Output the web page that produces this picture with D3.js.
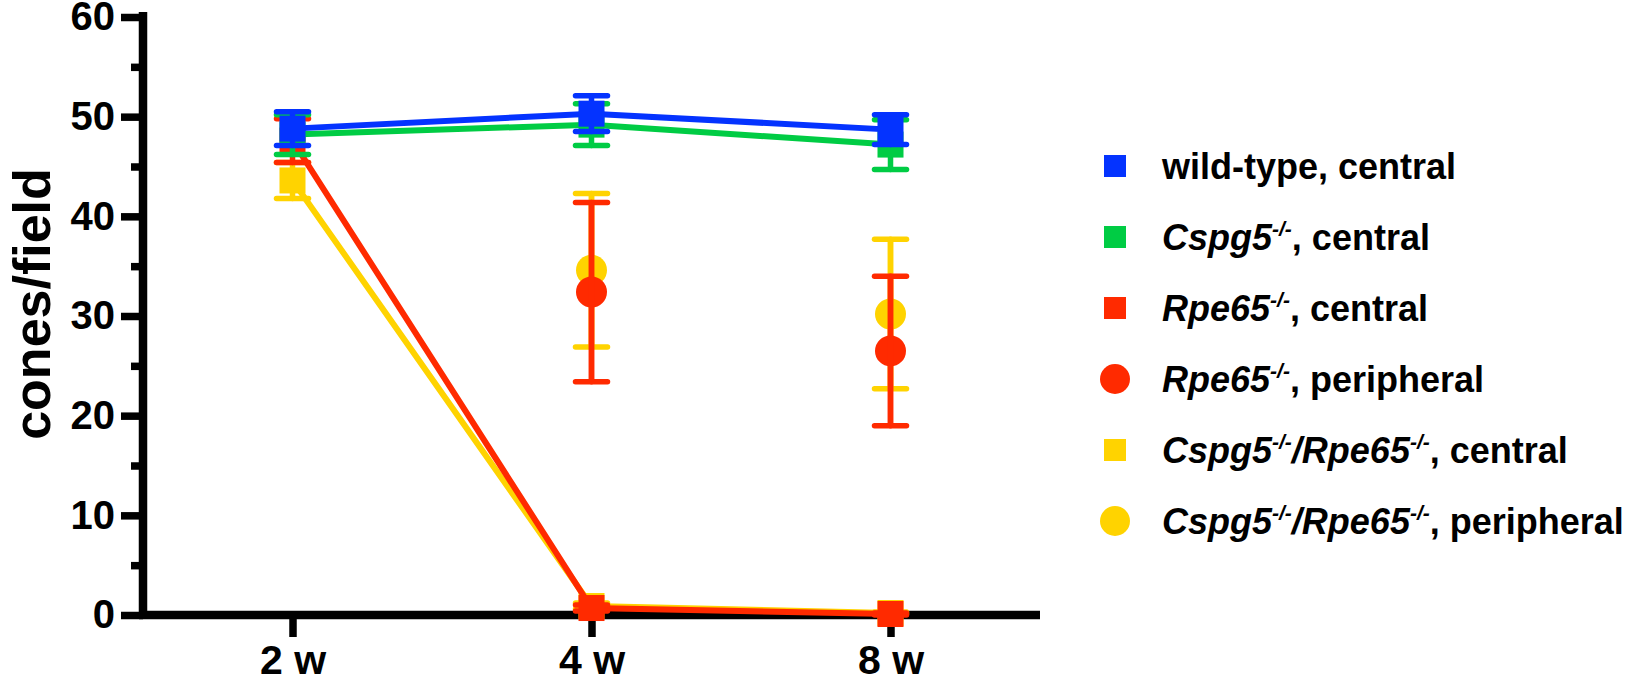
<!DOCTYPE html>
<html><head><meta charset="utf-8">
<script src="https://cdn.jsdelivr.net/npm/d3@7"></script>
<style>
body{margin:0;background:#fff}
svg{display:block}
text{font-family:"Liberation Sans",Arial,Helvetica,sans-serif;font-weight:bold;fill:#000}
</style>
</head><body>
<svg id="c" width="1646" height="681"></svg>
<script>
// ---- data ----
const categories = ["2 w", "4 w", "8 w"];
const yTicks = [0, 10, 20, 30, 40, 50, 60];
const yMinorTicks = [5, 15, 25, 35, 45, 55];

const wtCentralMean = [48.8, 50.3, 48.7];
const wtCentralErr = [1.7, 1.8, 1.5];
const cspgCentralMean = [48.2, 49.2, 47.2];
const cspgCentralErr = [2.0, 2.1, 2.5];
const rpeCentralMean = [47.6, 0.7, 0.1];
const rpeCentralErr = [2.2, 0.3, 0.1];
const rpePeripheralMean = [null, 32.4, 26.5];
const rpePeripheralErr = [null, 9.0, 7.5];
const dkoCentralMean = [43.6, 0.9, 0.2];
const dkoCentralErr = [1.8, 0.3, 0.1];
const dkoPeripheralMean = [null, 34.6, 30.2];
const dkoPeripheralErr = [null, 7.7, 7.5];

const seriesNames = ["wild-type, central", "Cspg5 central", "Rpe65 central", "Rpe65 peripheral", "Cspg5/Rpe65 central", "Cspg5/Rpe65 peripheral"];
const seriesColors = ["#0433ff", "#00cc44", "#ff2a00", "#ff2a00", "#ffd300", "#ffd300"];
const seriesShapes = ["square", "square", "square", "circle", "square", "circle"];
const seriesLines = [true, true, true, false, true, false];
const seriesMeans = [wtCentralMean, cspgCentralMean, rpeCentralMean, rpePeripheralMean, dkoCentralMean, dkoPeripheralMean];
const seriesErrs = [wtCentralErr, cspgCentralErr, rpeCentralErr, rpePeripheralErr, dkoCentralErr, dkoPeripheralErr];
// drawing order (bottom to top)
const drawOrder = [5, 4, 3, 2, 1, 0];

// legend labels: segments {t, i (italic), s (superscript)}
const legendLabels = [
  [{t: "wild-type, central"}],
  [{t: "Cspg5", i: 1}, {t: "-/-", i: 1, s: 1}, {t: ", central"}],
  [{t: "Rpe65", i: 1}, {t: "-/-", i: 1, s: 1}, {t: ", central"}],
  [{t: "Rpe65", i: 1}, {t: "-/-", i: 1, s: 1}, {t: ", peripheral"}],
  [{t: "Cspg5", i: 1}, {t: "-/-", i: 1, s: 1}, {t: "/Rpe65", i: 1}, {t: "-/-", i: 1, s: 1}, {t: ", central"}],
  [{t: "Cspg5", i: 1}, {t: "-/-", i: 1, s: 1}, {t: "/Rpe65", i: 1}, {t: "-/-", i: 1, s: 1}, {t: ", peripheral"}]
];

// ---- layout ----
const svg = d3.select("#c");
const axX = 143, axRight = 1040, y0 = 615, yTop = 17;
const x = d3.scalePoint().domain(categories).range([axX, axRight]).padding(0.5);
const y = d3.scaleLinear().domain([0, 60]).range([y0, yTop]);

// axes
const gy = svg.append("g").attr("transform", `translate(${axX},0)`)
  .call(d3.axisLeft(y).tickValues(yTicks).tickSize(22).tickSizeOuter(0).tickPadding(6));
const gyMinor = svg.append("g").attr("transform", `translate(${axX},0)`)
  .call(d3.axisLeft(y).tickValues(yMinorTicks).tickSize(12).tickSizeOuter(0).tickFormat(""));
const gx = svg.append("g").attr("transform", `translate(0,${y0})`)
  .call(d3.axisBottom(x).tickSize(22).tickSizeOuter(0).tickPadding(8));
gx.select(".domain").attr("d", `M${axX - 4},0H${axRight}`);
gy.select(".domain").attr("d", `M0,${y0}V${yTop - 5}`);
gyMinor.select(".domain").remove();
[gx, gy, gyMinor].forEach(g => {
  g.selectAll(".domain").attr("stroke", "#000").attr("stroke-width", 8.5);
  g.selectAll(".tick line").attr("stroke", "#000").attr("stroke-width", 7.5);
  g.selectAll("text").style("font-size", "40px").attr("fill", "#000");
});
gx.selectAll("text").style("font-size", "41px");

// y title
svg.append("text").attr("transform", "translate(50,304) rotate(-90)")
  .attr("text-anchor", "middle").style("font-size", "52px").text("cones/field");

// series
const plot = svg.append("g");
const sq = 26, cr = 15.5, capW = 32;
drawOrder.forEach(si => {
  const col = seriesColors[si];
  const pts = categories.map((c, i) => ({c, m: seriesMeans[si][i], e: seriesErrs[si][i]})).filter(d => d.m != null);
  const g = plot.append("g");
  if (seriesLines[si]) {
    g.append("path").datum(pts)
      .attr("d", d3.line().x(d => x(d.c)).y(d => y(d.m)))
      .attr("fill", "none").attr("stroke", col).attr("stroke-width", 6);
  }
  pts.forEach(d => {
    const cx = x(d.c);
    const eg = g.append("g").attr("stroke", col).attr("stroke-width", 5.5).attr("stroke-linecap", "round");
    eg.append("line").attr("x1", cx).attr("x2", cx).attr("y1", y(d.m - d.e)).attr("y2", y(d.m + d.e));
    eg.append("line").attr("x1", cx - capW / 2).attr("x2", cx + capW / 2).attr("y1", y(d.m + d.e)).attr("y2", y(d.m + d.e));
    eg.append("line").attr("x1", cx - capW / 2).attr("x2", cx + capW / 2).attr("y1", y(d.m - d.e)).attr("y2", y(d.m - d.e));
    if (seriesShapes[si] === "square") {
      g.append("rect").attr("x", cx - sq / 2).attr("y", y(d.m) - sq / 2).attr("width", sq).attr("height", sq).attr("fill", col);
    } else {
      g.append("circle").attr("cx", cx).attr("cy", y(d.m)).attr("r", cr).attr("fill", col);
    }
  });
  if (seriesShapes[si] === "circle") {
    pts.forEach(d => {
      const cx = x(d.c);
      g.append("line").attr("x1", cx).attr("x2", cx).attr("y1", y(d.m - d.e)).attr("y2", y(d.m + d.e))
        .attr("stroke", col).attr("stroke-width", 5.5);
    });
  }
});

// legend
const legX = 1115, legTextX = 1162, legY0 = 166, legStep = 71;
legendLabels.forEach((segs, i) => {
  const cy = legY0 + i * legStep;
  if (seriesShapes[i] === "square") {
    svg.append("rect").attr("x", legX - 11).attr("y", cy - 11).attr("width", 22).attr("height", 22).attr("fill", seriesColors[i]);
  } else {
    svg.append("circle").attr("cx", legX).attr("cy", cy).attr("r", 15).attr("fill", seriesColors[i]);
  }
  const t = svg.append("text").attr("x", legTextX).attr("y", cy + 13).style("font-size", "36px");
  segs.forEach((s, k) => {
    const ts = t.append("tspan").text(s.t);
    if (s.i) ts.style("font-style", "italic");
    if (s.s) ts.style("font-size", "21px").attr("dy", -14);
    else if (k > 0 && segs[k - 1].s) ts.attr("dy", 14);
  });
});
</script>
</body></html>
